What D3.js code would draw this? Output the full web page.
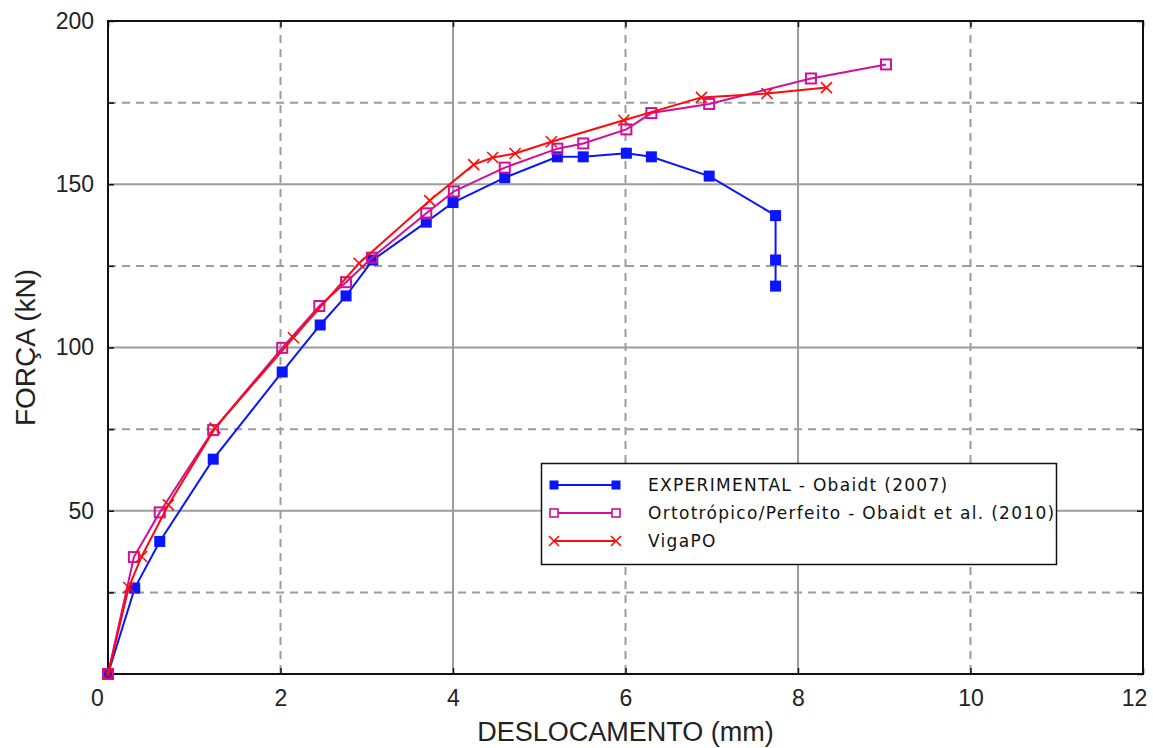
<!DOCTYPE html>
<html>
<head>
<meta charset="utf-8">
<script src="https://cdn.jsdelivr.net/npm/d3@7"></script>
<style>
  html, body { margin: 0; padding: 0; background: #fff; }
  svg { display: block; }
</style>
</head>
<body>
<svg id="chart" width="1153" height="748"></svg>
<script>
// Force-displacement curves (FORÇA kN vs DESLOCAMENTO mm)
const expX  = [0, 0.31, 0.60, 1.22, 2.02, 2.46, 2.76, 3.07, 3.69, 4.00, 4.60, 5.21, 5.51, 6.01, 6.30, 6.97, 7.74, 7.74, 7.74];
const expY  = [0, 26.3, 40.6, 65.8, 92.5, 106.9, 115.8, 126.8, 138.4, 144.4, 152.0, 158.4, 158.4, 159.5, 158.4, 152.5, 140.4, 126.8, 118.8];

const ortX  = [0, 0.30, 0.60, 1.22, 2.02, 2.45, 2.76, 3.06, 3.69, 4.01, 4.60, 5.21, 5.51, 6.01, 6.30, 6.97, 8.15, 9.02];
const ortY  = [0, 35.8, 49.5, 74.7, 99.9, 112.7, 120.0, 127.5, 141.1, 147.8, 155.1, 160.9, 162.5, 166.8, 171.8, 174.6, 182.4, 186.7];

const vigaX = [0, 0.24, 0.39, 0.70, 1.24, 2.15, 2.91, 3.73, 4.24, 4.46, 4.72, 5.14, 5.98, 6.88, 7.64, 8.33];
const vigaY = [0, 26.5, 36.0, 51.8, 75.3, 103.0, 125.8, 145.0, 156.0, 158.2, 159.4, 163.0, 169.6, 176.6, 177.8, 179.6];

const xTicks = [0, 2, 4, 6, 8, 10, 12];
const yTicks = [0, 25, 50, 75, 100, 125, 150, 175, 200];
const yLabelTicks = [50, 100, 150, 200];
const xSolidGrid = [4, 8];
const xDashedGrid = [2, 6, 10];
const ySolidGrid = [50, 100, 150];
const yDashedGrid = [25, 75, 125, 175];

const seriesNames = [
  "EXPERIMENTAL - Obaidt (2007)",
  "Ortotrópico/Perfeito - Obaidt et al. (2010)",
  "VigaPO"
];
const xTitle = "DESLOCAMENTO (mm)";
const yTitle = "FORÇA (kN)";

const svg = d3.select("#chart");
const plotL = 108, plotR = 1143, plotT = 21, plotB = 674;

const x = d3.scaleLinear().domain([0, 12]).range([plotL, plotR]);
const y = d3.scaleLinear().domain([0, 200]).range([plotB, plotT]);

const gridColor = "#9c9c9c";
const grid = svg.append("g");

// vertical grid lines
grid.selectAll(null).data(xSolidGrid).enter().append("line")
  .attr("x1", d => x(d)).attr("x2", d => x(d)).attr("y1", plotT).attr("y2", plotB)
  .attr("stroke", gridColor).attr("stroke-width", 2);
grid.selectAll(null).data(xDashedGrid).enter().append("line")
  .attr("x1", d => x(d)).attr("x2", d => x(d)).attr("y1", plotT).attr("y2", plotB)
  .attr("stroke", gridColor).attr("stroke-width", 2).attr("stroke-dasharray", "8,6");
// horizontal grid lines
grid.selectAll(null).data(ySolidGrid).enter().append("line")
  .attr("x1", plotL).attr("x2", plotR).attr("y1", d => y(d)).attr("y2", d => y(d))
  .attr("stroke", gridColor).attr("stroke-width", 2);
grid.selectAll(null).data(yDashedGrid).enter().append("line")
  .attr("x1", plotL).attr("x2", plotR).attr("y1", d => y(d)).attr("y2", d => y(d))
  .attr("stroke", gridColor).attr("stroke-width", 2).attr("stroke-dasharray", "8,6");

// axes (inward ticks on all four sides)
const tickFont = "Liberation Sans, Arial, sans-serif";
function styleAxis(g) {
  g.select(".domain").remove();
  g.selectAll(".tick line").attr("stroke", "#111").attr("stroke-width", 1.5);
  g.selectAll(".tick text").attr("fill", "#222").style("font-family", tickFont).style("font-size", "23px");
}

const xAxis = svg.append("g").attr("transform", `translate(0,${plotB})`)
  .call(d3.axisBottom(x).tickValues(xTicks).tickSizeInner(-6).tickSizeOuter(0).tickPadding(16).tickFormat(d3.format("d")))
  .call(styleAxis);
// end labels pulled inward so they stay clear of the frame corners
xAxis.selectAll(".tick text").filter(d => d === 0).attr("dx", -11);
xAxis.selectAll(".tick text").filter(d => d === 12).attr("dx", -9);

svg.append("g").attr("transform", `translate(0,${plotT})`)
  .call(d3.axisTop(x).tickValues(xTicks).tickSizeInner(-6).tickSizeOuter(0).tickFormat(""))
  .call(styleAxis);

svg.append("g").attr("transform", `translate(${plotL},0)`)
  .call(d3.axisLeft(y).tickValues(yTicks).tickSizeInner(-6).tickSizeOuter(0).tickPadding(14)
    .tickFormat(d => yLabelTicks.includes(d) ? d : ""))
  .call(styleAxis);

svg.append("g").attr("transform", `translate(${plotR},0)`)
  .call(d3.axisRight(y).tickValues(yTicks).tickSizeInner(-6).tickSizeOuter(0).tickFormat(""))
  .call(styleAxis);

// plot frame
svg.append("rect")
  .attr("x", plotL).attr("y", plotT).attr("width", plotR - plotL).attr("height", plotB - plotT)
  .attr("fill", "none").attr("stroke", "#111").attr("stroke-width", 2);

// axis titles
svg.append("text")
  .attr("x", (plotL + plotR) / 2).attr("y", 741)
  .attr("text-anchor", "middle").attr("fill", "#222")
  .style("font-family", tickFont).style("font-size", "27px")
  .text(xTitle);
svg.append("text")
  .attr("transform", `translate(35,${(plotT + plotB) / 2}) rotate(-90)`)
  .attr("text-anchor", "middle").attr("fill", "#222")
  .style("font-family", tickFont).style("font-size", "28px")
  .text(yTitle);

// series
const blue = "#0a14ff", magenta = "#d0109a", red = "#ff0a0a";
const line = d3.line().x(d => x(d[0])).y(d => y(d[1]));
const zip = (a, b) => a.map((v, i) => [v, b[i]]);

function filledSquare(g, pts, color, s) {
  g.selectAll(null).data(pts).enter().append("rect")
    .attr("x", d => x(d[0]) - s / 2).attr("y", d => y(d[1]) - s / 2)
    .attr("width", s).attr("height", s).attr("fill", color);
}
function openSquare(g, pts, color, s) {
  g.selectAll(null).data(pts).enter().append("rect")
    .attr("x", d => x(d[0]) - s / 2).attr("y", d => y(d[1]) - s / 2)
    .attr("width", s).attr("height", s).attr("fill", "none")
    .attr("stroke", color).attr("stroke-width", 2);
}
function crossMark(g, pts, color, s) {
  const p = d3.path();
  pts.forEach(d => {
    const cx = x(d[0]), cy = y(d[1]);
    p.moveTo(cx - s / 2, cy - s / 2); p.lineTo(cx + s / 2, cy + s / 2);
    p.moveTo(cx - s / 2, cy + s / 2); p.lineTo(cx + s / 2, cy - s / 2);
  });
  g.append("path").attr("d", p.toString()).attr("stroke", color).attr("stroke-width", 1.6).attr("fill", "none");
}

const expPts = zip(expX, expY), ortPts = zip(ortX, ortY), vigaPts = zip(vigaX, vigaY);
const plot = svg.append("g");

const gExp = plot.append("g");
gExp.append("path").datum(expPts).attr("d", line).attr("fill", "none").attr("stroke", blue).attr("stroke-width", 2);
filledSquare(gExp, expPts, blue, 11);

const gOrt = plot.append("g");
gOrt.append("path").datum(ortPts).attr("d", line).attr("fill", "none").attr("stroke", magenta).attr("stroke-width", 2);
openSquare(gOrt, ortPts, magenta, 10);

const gViga = plot.append("g");
gViga.append("path").datum(vigaPts).attr("d", line).attr("fill", "none").attr("stroke", red).attr("stroke-width", 2);
crossMark(gViga, vigaPts, red, 11);

// legend
const lg = svg.append("g");
lg.append("rect").attr("x", 541.5).attr("y", 463.5).attr("width", 515).attr("height", 101)
  .attr("fill", "#fff").attr("stroke", "#111").attr("stroke-width", 1.5);

const legendRows = [
  { name: seriesNames[0], color: blue, kind: "filled" },
  { name: seriesNames[1], color: magenta, kind: "open" },
  { name: seriesNames[2], color: red, kind: "cross" }
];
const rowY = [485, 513, 541];
const lx0 = 554, lx1 = 616;
legendRows.forEach((r, i) => {
  const cy = rowY[i];
  lg.append("line").attr("x1", lx0).attr("x2", lx1).attr("y1", cy).attr("y2", cy)
    .attr("stroke", r.color).attr("stroke-width", 2);
  [lx0, lx1].forEach(cx => {
    if (r.kind === "filled") {
      lg.append("rect").attr("x", cx - 4.5).attr("y", cy - 4.5).attr("width", 9).attr("height", 9).attr("fill", r.color);
    } else if (r.kind === "open") {
      lg.append("rect").attr("x", cx - 4).attr("y", cy - 4).attr("width", 8).attr("height", 8)
        .attr("fill", "#fff").attr("stroke", r.color).attr("stroke-width", 1.6);
    } else {
      lg.append("path").attr("d", `M${cx - 5},${cy - 5}L${cx + 5},${cy + 5}M${cx - 5},${cy + 5}L${cx + 5},${cy - 5}`)
        .attr("stroke", r.color).attr("stroke-width", 1.6);
    }
  });
  lg.append("text").attr("x", 648).attr("y", cy).attr("dy", "0.36em")
    .attr("fill", "#111")
    .style("font-family", "DejaVu Sans, Verdana, sans-serif").style("font-size", "17px")
    .style("letter-spacing", "1.3px")
    .text(r.name);
});
</script>
</body>
</html>
